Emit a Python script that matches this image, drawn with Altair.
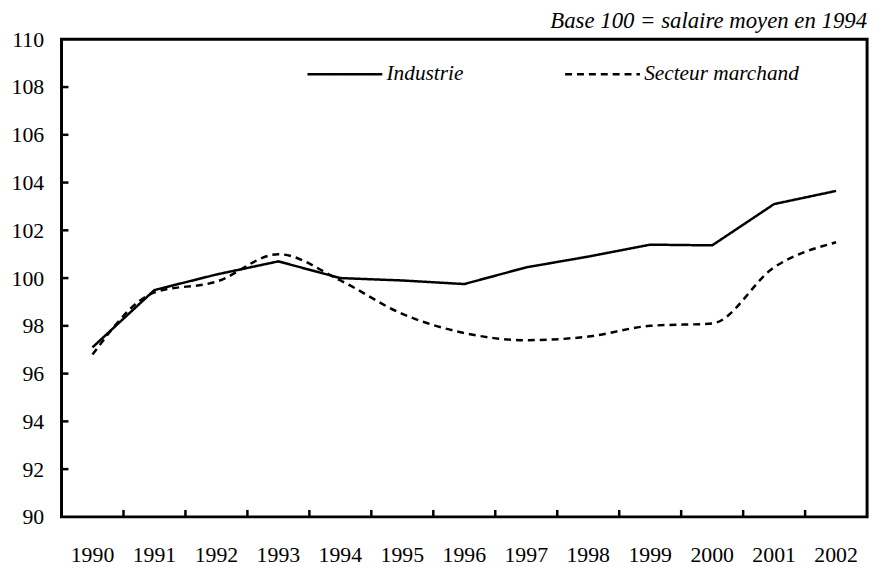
import altair as alt
import pandas as pd

years = ["1990", "1991", "1992", "1993", "1994", "1995", "1996",
         "1997", "1998", "1999", "2000", "2001", "2002"]
industrie = [97.1, 99.5, 100.15, 100.7, 100.0, 99.9, 99.75,
             100.45, 100.9, 101.4, 101.37, 103.1, 103.65]
marchand = [96.8, 99.4, 99.85, 101.0, 99.9, 98.5, 97.7,
            97.4, 97.55, 98.0, 98.1, 100.45, 101.5]
series = ["Industrie", "Secteur marchand"]
y_ticks = [90, 92, 94, 96, 98, 100, 102, 104, 106, 108, 110]

df = pd.DataFrame({
    "annee": years * 2,
    "valeur": industrie + marchand,
    "serie": [series[0]] * len(years) + [series[1]] * len(years),
})
df_yt = pd.DataFrame({"v": y_ticks[1:-1]})
df_xt = pd.DataFrame({"annee": years[1:]})

FONT = "Liberation Serif"
W, H = 813, 482

xscale = alt.Scale(type="band", domain=years, paddingInner=0, paddingOuter=0)
yscale = alt.Scale(domain=[90, 110], nice=False, zero=False)

x_enc = alt.X("annee:O", scale=xscale, title=None,
              axis=alt.Axis(labelAngle=0, tickSize=0, domain=False,
                            labelPadding=28, labelFont=FONT, labelFontSize=22,
                            labelColor="black"))
y_enc = alt.Y("valeur:Q", scale=yscale, title=None,
              axis=alt.Axis(values=y_ticks, tickSize=0, domain=False, grid=False,
                            labelPadding=18, labelFont=FONT, labelFontSize=22,
                            labelColor="black"))

dash = alt.StrokeDash("serie:N",
                      scale=alt.Scale(domain=series, range=[[1, 0], [7, 5]]),
                      legend=alt.Legend(title=None, orient="none", legendX=247,
                                        legendY=-4, direction="horizontal",
                                        symbolType="stroke", symbolSize=5700,
                                        symbolStrokeWidth=2.5, symbolStrokeColor="black",
                                        labelFont=FONT, labelFontSize=21.5,
                                        labelFontStyle="italic", labelColor="black",
                                        labelOffset=3, columnPadding=97,
                                        labelLimit=300))

base = alt.Chart(df)
solid = base.transform_filter(alt.datum.serie == series[0]).mark_line(
    color="black", strokeWidth=2.5).encode(x=x_enc, y=y_enc, strokeDash=dash)
dotted = base.transform_filter(alt.datum.serie == series[1]).mark_line(
    color="black", strokeWidth=2.5, interpolate="monotone").encode(
    x=x_enc, y=y_enc, strokeDash=dash)

yt = alt.Chart(df_yt).mark_rule(color="black", strokeWidth=2.5).encode(
    y=alt.Y("v:Q", scale=yscale), x=alt.value(0), x2=alt.value(7))
xt = alt.Chart(df_xt).mark_rule(color="black", strokeWidth=2.5).encode(
    x=alt.X("annee:O", scale=xscale, bandPosition=0),
    y=alt.value(H - 7), y2=alt.value(H))

chart = alt.layer(solid, dotted, yt, xt).properties(
    width=W, height=H,
    background="white",
    title=alt.Title("Base 100 = salaire moyen en 1994", anchor="end",
                    font=FONT, fontSize=23, fontStyle="italic",
                    fontWeight="normal", color="black", offset=-5),
    autosize=alt.AutoSizeParams(type="none"),
    padding={"left": 54, "top": 29, "right": 9, "bottom": 48},
).configure_view(stroke="black", strokeWidth=3)

chart.save("out.html", embed_options={"renderer": "svg", "actions": False})
